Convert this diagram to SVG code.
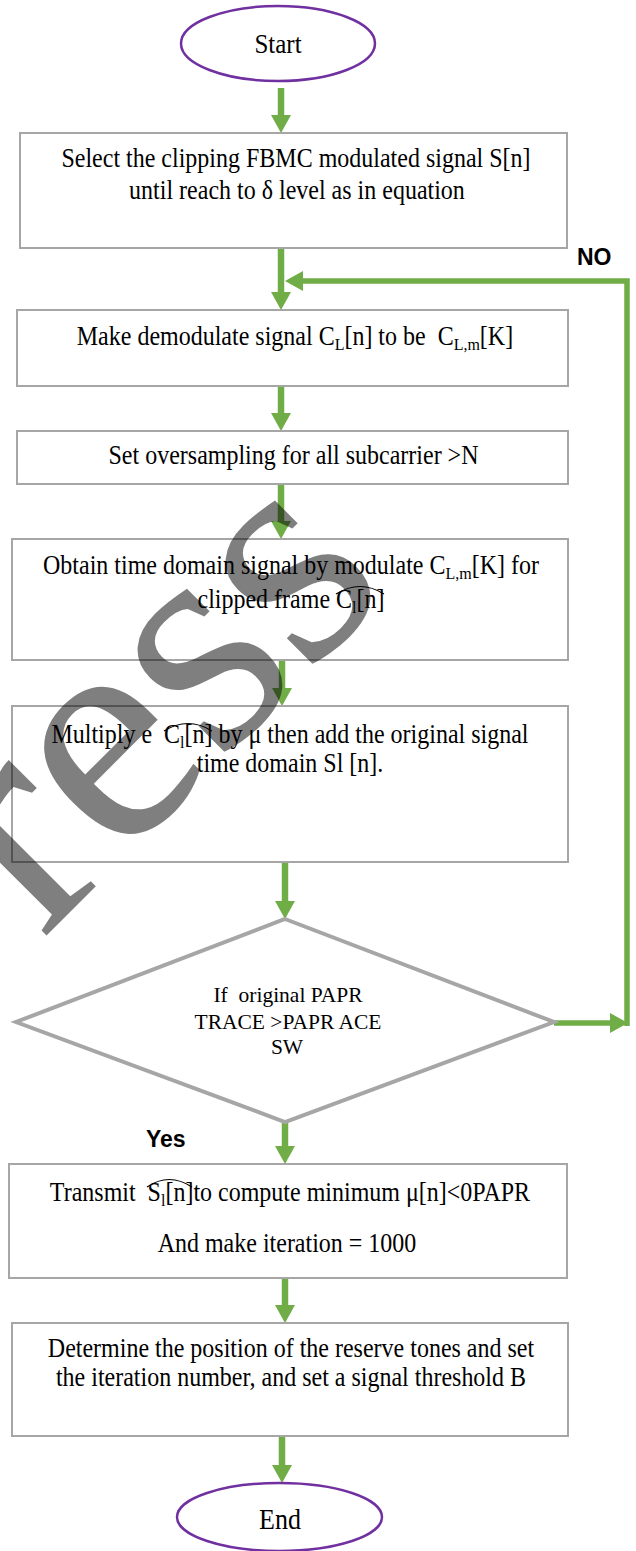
<svg xmlns="http://www.w3.org/2000/svg" width="636" height="1551" viewBox="0 0 636 1551">
<style>
.box{fill:#fff;stroke:#A6A6A6;stroke-width:2}
.dia{fill:#fff;stroke:#A6A6A6;stroke-width:4}
.term{fill:#fff;stroke:#7030A0;stroke-width:2.5}
.t{font-family:"Liberation Serif","Times New Roman",serif;font-size:24px;fill:#000;text-anchor:middle;transform-box:fill-box;transform-origin:center;transform:scale(1,1.1)}
.td{font-family:"Liberation Serif","Times New Roman",serif;font-size:21.5px;fill:#000;text-anchor:middle}
.lbl{font-family:"Liberation Sans",Arial,sans-serif;font-weight:bold;font-size:23px;fill:#000}
.sub{font-size:16px}
.conn{fill:none;stroke:#70AD47;stroke-width:6.5}
.loop{fill:none;stroke:#70AD47;stroke-width:5.5}
.hat{fill:none;stroke:#000;stroke-width:1.2}
.wm{font-family:"Liberation Serif","Times New Roman",serif;font-size:320px;fill:#000;fill-opacity:0.5}
</style>
<defs>
<marker id="ah" markerUnits="userSpaceOnUse" markerWidth="18" markerHeight="20" viewBox="0 0 18 20" refX="0" refY="10" orient="auto">
<path d="M0,0 L18,10 L0,20 z" fill="#70AD47"/>
</marker>
</defs>

<g id="connectors">
<line class="conn" x1="281" y1="88" x2="281" y2="115" marker-end="url(#ah)"/>
<line class="conn" x1="281" y1="248" x2="281" y2="292" marker-end="url(#ah)"/>
<line class="conn" x1="281" y1="386" x2="281" y2="413" marker-end="url(#ah)"/>
<line class="conn" x1="281" y1="484" x2="281" y2="521" marker-end="url(#ah)"/>
<line class="conn" x1="282" y1="660" x2="282" y2="688" marker-end="url(#ah)"/>
<line class="conn" x1="285" y1="862" x2="285" y2="901" marker-end="url(#ah)"/>
<line class="conn" x1="285" y1="1122" x2="285" y2="1146" marker-end="url(#ah)"/>
<line class="conn" x1="285" y1="1278" x2="285" y2="1305" marker-end="url(#ah)"/>
<line class="conn" x1="282" y1="1436" x2="282" y2="1465" marker-end="url(#ah)"/>
<path class="loop" d="M554,1023 H610" marker-end="url(#ah)"/>
<path class="loop" d="M627,1026 V281 H303" marker-end="url(#ah)"/>
</g>

<g id="start">
<ellipse class="term" cx="278" cy="43.5" rx="97" ry="37.5"/>
<text class="t" x="278" y="52" style="font-size:25px">Start</text>
</g>

<g id="box1">
<rect class="box" x="20" y="133" width="547" height="115"/>
<text class="t" x="296" y="166">Select the clipping FBMC modulated signal S[n]</text>
<text class="t" x="297" y="198">until reach to δ level as in equation</text>
</g>

<g id="box2">
<rect class="box" x="17" y="310" width="551" height="76"/>
<text class="t" x="295" y="344" xml:space="preserve">Make demodulate signal C<tspan class="sub" dy="5">L</tspan><tspan dy="-5">[n] to be  C</tspan><tspan class="sub" dy="5">L,m</tspan><tspan dy="-5">[K]</tspan></text>
</g>

<g id="box3">
<rect class="box" x="17" y="431" width="551" height="53"/>
<text class="t" x="293.5" y="463">Set oversampling for all subcarrier &gt;N</text>
</g>

<g id="box4">
<rect class="box" x="12" y="539" width="556" height="121"/>
<text class="t" x="291" y="573">Obtain time domain signal by modulate C<tspan class="sub" dy="5">L,m</tspan><tspan dy="-5">[K] for</tspan></text>
<text class="t" x="291" y="607">clipped frame C<tspan class="sub" dy="5">l</tspan><tspan dy="-5">[n]</tspan></text>
<path class="hat" d="M336,594 Q360,579 384,594"/>
</g>

<g id="box5">
<rect class="box" x="12" y="706" width="556" height="156"/>
<text class="t" x="290" y="742" xml:space="preserve">Multiply e  C<tspan class="sub" dy="5">l</tspan><tspan dy="-5">[n] by μ then add the original signal</tspan></text>
<text class="t" x="290" y="771">time domain Sl [n].</text>
<path class="hat" d="M164,731 Q188,716 212,731"/>
</g>

<g id="decision">
<polygon class="dia" points="285,919 554,1022 285,1122 16,1022"/>
<text class="td" x="288" y="1002" xml:space="preserve">If  original PAPR</text>
<text class="td" x="288" y="1029">TRACE &gt;PAPR ACE</text>
<text class="td" x="287" y="1054">SW</text>
</g>

<g id="box6">
<rect class="box" x="9" y="1164" width="558" height="114"/>
<text class="t" x="290" y="1200" xml:space="preserve">Transmit  S<tspan class="sub" dy="5">l</tspan><tspan dy="-5">[n]to compute minimum μ[n]&lt;0PAPR</tspan></text>
<text class="t" x="287" y="1251">And make iteration = 1000</text>
<path class="hat" d="M147,1187 Q169,1172 192,1187"/>
</g>

<g id="box7">
<rect class="box" x="12" y="1323" width="556" height="113"/>
<text class="t" x="291" y="1356">Determine the position of the reserve tones and set</text>
<text class="t" x="291" y="1385">the iteration number, and set a signal threshold B</text>
</g>

<g id="end">
<ellipse class="term" cx="279.5" cy="1517" rx="102.5" ry="34"/>
<text class="t" x="280" y="1528" style="font-size:26px">End</text>
</g>

<g id="labels">
<text class="lbl" x="577" y="265">NO</text>
<text class="lbl" x="146" y="1147">Yes</text>
</g>

<g id="watermark">
<text class="wm" transform="translate(42,940) rotate(-45)">ress</text>
</g>
</svg>
